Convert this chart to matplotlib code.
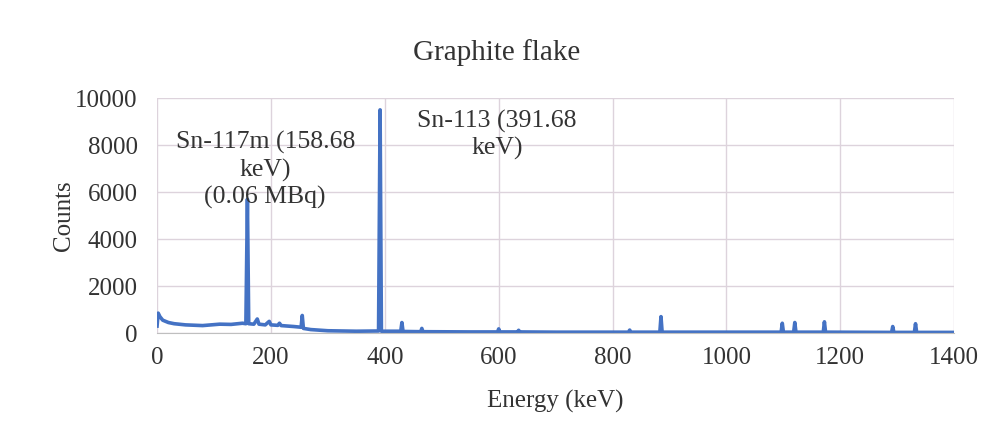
import matplotlib.pyplot as plt

plt.rcParams['font.family'] = ['Liberation Serif', 'DejaVu Serif']

# spectrum (energy keV, counts)
energy = [0, 2, 5, 10, 20, 30, 50, 80, 110, 130, 150, 156, 158.7, 161, 170, 176, 179,
          190, 197, 200, 212, 215, 218, 240, 253, 255, 257, 270, 300, 350, 389, 391.7,
          394, 428, 430, 432, 463, 465, 467, 550, 598, 600, 602, 633, 635, 637, 700,
          828, 830, 832, 883, 885, 887, 1000, 1096, 1098, 1100, 1118, 1120, 1122,
          1170, 1172, 1174, 1290, 1292, 1294, 1330, 1332, 1334, 1400]
counts = [300, 850, 700, 550, 450, 400, 350, 320, 380, 370, 420, 400, 5700, 400, 380, 600, 380,
          350, 500, 350, 330, 420, 320, 280, 250, 750, 200, 150, 100, 80, 90, 9500,
          80, 80, 450, 70, 60, 200, 60, 50, 50, 180, 50, 50, 120, 50, 40,
          40, 130, 40, 40, 700, 40, 40, 40, 420, 40, 40, 450, 40,
          40, 480, 40, 30, 280, 30, 30, 400, 30, 30]

xticks = [0, 200, 400, 600, 800, 1000, 1200, 1400]
yticks = [0, 2000, 4000, 6000, 8000, 10000]

fig = plt.figure(figsize=(9.94, 4.36), dpi=100)
ax = fig.add_axes([0.158, 0.236, 0.802, 0.539])
ax.plot(energy, counts, color='#4472C4', lw=2.6)

ax.set_xlim(0, 1400)
ax.set_ylim(0, 10000)
ax.set_xticks(xticks)
ax.set_yticks(yticks)
ax.grid(True, color='#ddd3dc', lw=1)
ax.set_axisbelow(True)
for s in ['top', 'right', 'left']:
    ax.spines[s].set_visible(False)
ax.spines['bottom'].set_color('#bfbfbf')
ax.tick_params(length=0, labelsize=18, colors='#333333')
ax.tick_params(axis='x', pad=10)
ax.tick_params(axis='y', pad=14)

ax.set_xlabel('Energy (keV)', fontsize=18, color='#333333', labelpad=15)
ax.set_ylabel('Counts', fontsize=18, color='#333333', labelpad=0)
fig.suptitle('Graphite flake', fontsize=21, color='#333333', y=0.91)

ax.text(190, 8600, 'Sn-117m (158.68\nkeV)\n(0.06 MBq)', ha='center', va='top',
        fontsize=18.5, color='#333333', linespacing=1.25)
ax.text(597, 9500, 'Sn-113 (391.68\nkeV)', ha='center', va='top',
        fontsize=18.5, color='#333333', linespacing=1.25)

fig.savefig('out.png')
